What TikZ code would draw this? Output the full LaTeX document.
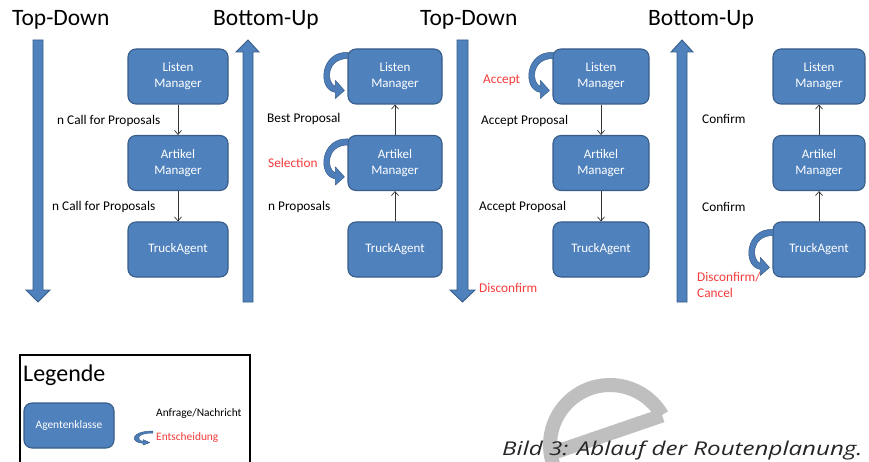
\documentclass[tikz,border=0pt]{standalone}
\usepackage{fontspec}
\setmainfont{Carlito}
\newfontfamily\capfont{Open Sans}
\usetikzlibrary{arrows.meta}
\definecolor{boxblue}{HTML}{4F81BD}
\definecolor{boxedge}{HTML}{385D8A}
\definecolor{decred}{HTML}{F53B3B}
\tikzset{
  agent/.style={draw=boxedge, line width=1.1pt, fill=boxblue, rounded corners=8pt,
    text=white, font=\fontsize{13}{16}\selectfont, align=center,
    minimum height=55pt, inner sep=0pt},
  msg/.style={draw=black!80, line width=0.7pt, -{Straight Barb[length=4pt,width=7pt]}},
  lbl/.style={anchor=west, font=\fontsize{13.3}{16}\selectfont, inner sep=0pt},
  redlbl/.style={lbl, text=decred},
  ttl/.style={anchor=west, font=\fontsize{23.5}{28}\selectfont, inner sep=0pt},
  bigarrow/.style={fill=boxblue, draw=boxedge, line width=0.9pt},
  curveshape/.style={fill=boxblue!92!boxedge, draw=boxedge, line width=0.5pt, line join=round},
  decide/.pic={\path[curveshape]
    (1,4) .. controls (-27,2) and (-31,41) .. (-12,44)
    -- (-12,50) -- (-3,42) -- (-12,32) -- (-12,38)
    .. controls (-21,35) and (-22,10) .. (1,10) -- cycle;}
}
\begin{document}
\begin{tikzpicture}[x=1pt, y=-1pt]
\useasboundingbox (0,0) rectangle (869,462);
\clip (0,0) rectangle (869,462);
\fill[white] (0,0) rectangle (869,462);

% watermark
\draw[black!25, line width=14pt] (610,445) ++(330:60) arc[start angle=330, end angle=20, radius=60];
\draw[black!25, line width=14pt] (550.6,453.7) -- (662.2,415.5);

% ---------- Panel 1: Top-Down ----------
\node[ttl] (t1) at (12,20) {Top-Down};
\draw[bigarrow] (33,40) -- (43,40) -- (43,290) -- (50,290) -- (38,302) -- (26,290) -- (33,290) -- cycle;
\node[agent, minimum width=100pt] (a1) at (178,76.5) {Listen\\Manager};
\node[agent, minimum width=100pt] (b1) at (178,163) {Artikel\\Manager};
\node[agent, minimum width=100pt] (c1) at (178,249.5) {TruckAgent};
\draw[msg] (a1) -- (b1);
\draw[msg] (b1) -- (c1);
\node[lbl] (l1a) at (57,121) {n Call for Proposals};
\node[lbl] (l1b) at (52,207) {n Call for Proposals};

% ---------- Panel 2: Bottom-Up ----------
\node[ttl] (t2) at (213,20) {Bottom-Up};
\draw[bigarrow] (243,302) -- (253,302) -- (253,52) -- (259,52) -- (248,40) -- (236,52) -- (243,52) -- cycle;
\node[agent, minimum width=94pt] (a2) at (395,76.5) {Listen\\Manager};
\node[agent, minimum width=94pt] (b2) at (395,163) {Artikel\\Manager};
\node[agent, minimum width=94pt] (c2) at (395,249.5) {TruckAgent};
\draw[msg] (c2) -- (b2);
\draw[msg] (b2) -- (a2);
\pic at (a2.north west) {decide};
\pic at (b2.north west) {decide};
\node[lbl] (l2a) at (267,119) {Best Proposal};
\node[redlbl] (l2b) at (268,163) {Selection};
\node[lbl] (l2c) at (268,207) {n Proposals};

% ---------- Panel 3: Top-Down ----------
\node[ttl] (t3) at (420,20) {Top-Down};
\draw[bigarrow] (457,40) -- (468,40) -- (468,290) -- (475,290) -- (462.5,302) -- (450,290) -- (457,290) -- cycle;
\node[agent, minimum width=96pt] (a3) at (601,76.5) {Listen\\Manager};
\node[agent, minimum width=96pt] (b3) at (601,163) {Artikel\\Manager};
\node[agent, minimum width=96pt] (c3) at (601,249.5) {TruckAgent};
\draw[msg] (a3) -- (b3);
\draw[msg] (b3) -- (c3);
\pic at (a3.north west) {decide};
\node[redlbl] (l3a) at (483,80) {Accept};
\node[lbl] (l3b) at (481,121) {Accept Proposal};
\node[lbl] (l3c) at (479,207) {Accept Proposal};
\node[redlbl] (l3d) at (479,288) {Disconfirm};

% ---------- Panel 4: Bottom-Up ----------
\node[ttl] (t4) at (648,20) {Bottom-Up};
\draw[bigarrow] (677,302) -- (687,302) -- (687,52) -- (693,52) -- (682,40) -- (671,52) -- (677,52) -- cycle;
\node[agent, minimum width=92pt] (a4) at (819,76.5) {Listen\\Manager};
\node[agent, minimum width=92pt] (b4) at (819,163) {Artikel\\Manager};
\node[agent, minimum width=92pt] (c4) at (819,249.5) {TruckAgent};
\draw[msg] (c4) -- (b4);
\draw[msg] (b4) -- (a4);
\pic at ([yshift=-4pt]c4.north west) {decide};
\node[lbl] (l4a) at (702,119) {Confirm};
\node[lbl] (l4b) at (702,207) {Confirm};
\node[redlbl, align=left] (l4c) at (697,285) {Disconfirm/\\Cancel};

% ---------- Legend ----------
\draw[line width=1.3pt] (20,355) rectangle (250,480);
\node[anchor=west, inner sep=0pt, font=\fontsize{24}{28}\selectfont] (lg) at (23,375) {Legende};
\node[agent, minimum width=90pt, minimum height=45pt, font=\fontsize{11.4}{14}\selectfont] (lga) at (69,425.5) {Agentenklasse};
\node[anchor=west, inner sep=0pt, font=\fontsize{11.4}{14}\selectfont] (lgm) at (156,414) {Anfrage/Nachricht};
\node[anchor=west, inner sep=0pt, font=\fontsize{11.4}{14}\selectfont, text=decred] (lgd) at (156,438) {Entscheidung};
\pic[xscale=0.75, yscale=0.3] at (152,430) {decide};

% ---------- Caption ----------
\node[anchor=base west, inner sep=0pt, text=black!85, font=\capfont\itshape\fontsize{19}{24}\selectfont] (cap) at (502,455) {\scalebox{1.27}[1]{Bild 3: Ablauf der Routenplanung.}};
\end{tikzpicture}
\end{document}
